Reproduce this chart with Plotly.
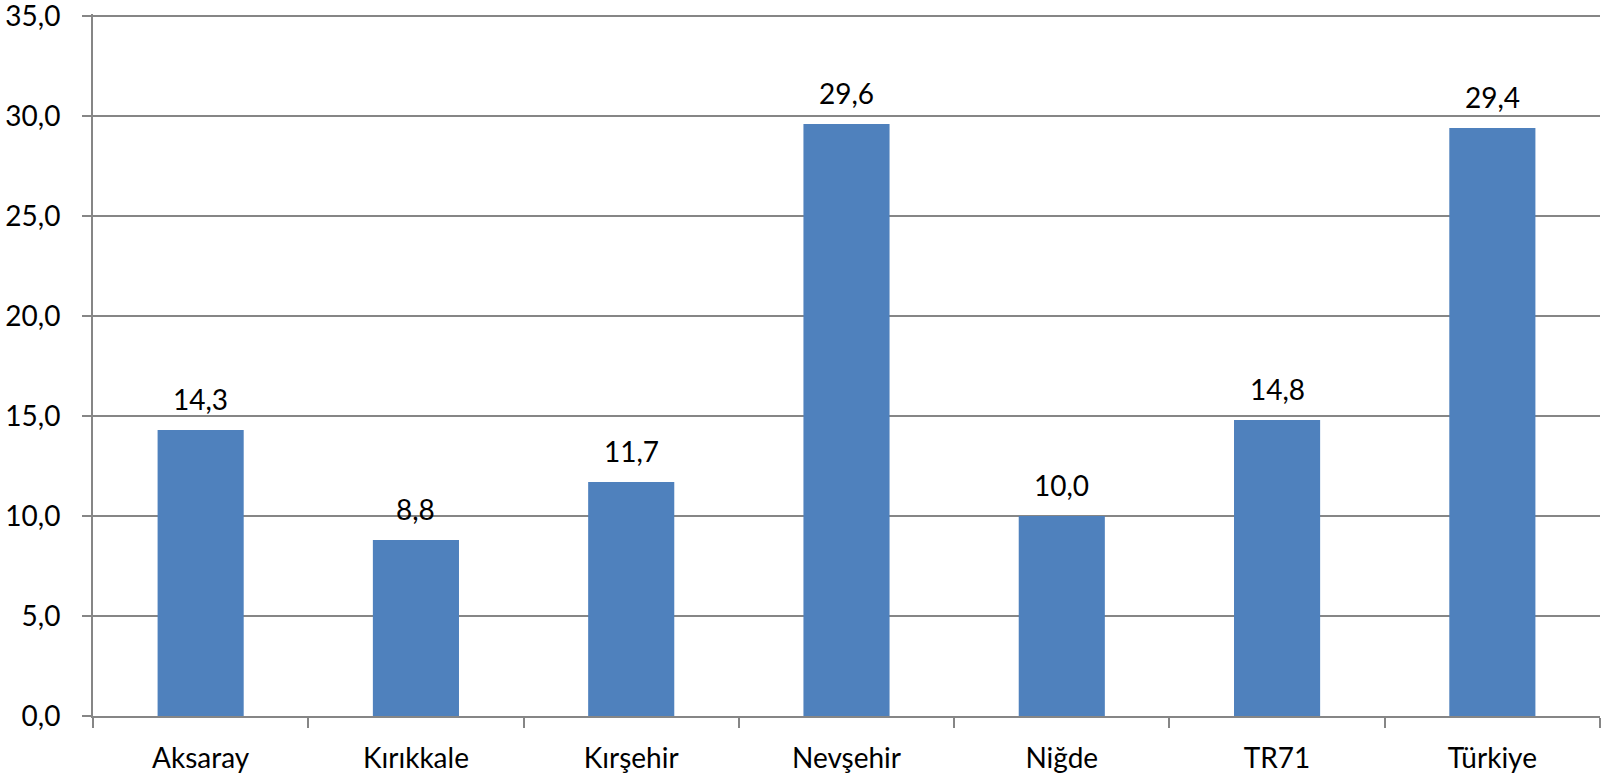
import plotly.graph_objects as go

categories = ["Aksaray", "Kırıkkale", "Kırşehir", "Nevşehir", "Niğde", "TR71", "Türkiye"]
values = [14.3, 8.8, 11.7, 29.6, 10.0, 14.8, 29.4]
y_ticks = [0, 5, 10, 15, 20, 25, 30, 35]

FONT = "Lato, 'Open Sans', sans-serif"
FS = 28
GRID = "#868686"
BAR = "#4F81BD"

fig = go.Figure()
fig.add_trace(go.Bar(
    x=categories, y=values, marker_color=BAR, marker_line_width=0,
    width=0.4, hoverinfo="skip",
))

for c, v in zip(categories, values):
    fig.add_annotation(
        x=c, y=v, text=f"{v:.1f}".replace(".", ","), showarrow=False,
        yanchor="bottom", yshift=12, font=dict(family=FONT, size=FS, color="black"),
    )

fig.update_layout(
    width=1614, height=778,
    margin=dict(l=93, r=14, t=14, b=62, autoexpand=False),
    paper_bgcolor="white", plot_bgcolor="white",
    showlegend=False,
    font=dict(family=FONT, size=FS, color="black"),
    bargap=0.6,
)
fig.update_xaxes(
    showline=True, linecolor=GRID, linewidth=2,
    ticks="outside", tickson="boundaries", ticklen=10, tickwidth=2, tickcolor=GRID,
    showgrid=False, tickfont=dict(family=FONT, size=FS, color="black"),
    ticklabelstandoff=16, automargin=False,
)
fig.update_yaxes(
    range=[0, 35.1], tickvals=y_ticks, ticktext=[f"{t:.1f}".replace(".", ",") for t in y_ticks],
    showline=True, linecolor=GRID, linewidth=2,
    ticks="outside", ticklen=9, tickwidth=2, tickcolor=GRID,
    showgrid=True, gridcolor=GRID, gridwidth=2, zeroline=False,
    tickfont=dict(family=FONT, size=FS, color="black"),
    ticklabelstandoff=16, automargin=False, ticklabeloverflow="allow",
)

fig.write_html("out.html", config={"displayModeBar": False},
               post_script="document.body.style.margin='0';")
